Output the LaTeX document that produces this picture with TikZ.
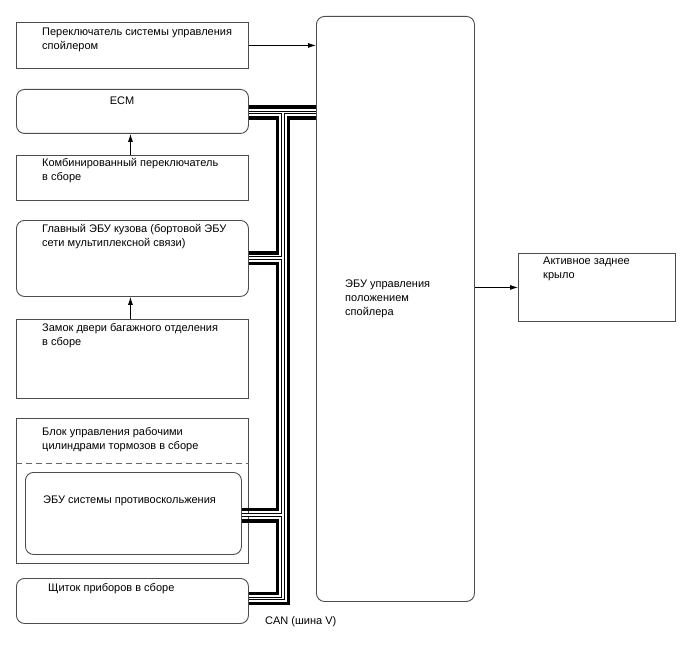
\documentclass[tikz,border=0pt]{standalone}
\usepackage{fontspec}
\setmainfont{Liberation Sans}
\usetikzlibrary{arrows.meta}
\newcommand\stt{\rule{0pt}{9pt}}
\begin{document}
\begin{tikzpicture}[x=1pt,y=-1pt,
  box/.style={draw=black!70, line width=0.9pt, inner sep=0pt, anchor=north west},
  rbox/.style={box, rounded corners=8pt},
  txt/.style={anchor=north west, inner sep=0pt, align=left, font=\fontsize{11}{14}\selectfont},
  arr/.style={draw=black, line width=0.8pt, -{Latex[length=8pt,width=5pt]}},
  bus/.style={line width=3.5pt, line join=miter},
  dbo/.style={line width=3.6pt, black},
  dbi/.style={line width=1.8pt, white}]
\useasboundingbox (0,0) rectangle (688,658);

% boxes
\node[box, minimum width=232pt, minimum height=46pt] (sw) at (16,22) {};
\node[rbox, minimum width=232pt, minimum height=44pt] (ecm) at (16,89) {};
\node[box, minimum width=232pt, minimum height=45pt] (comb) at (16,155) {};
\node[rbox, minimum width=232pt, minimum height=76pt] (body) at (16,220) {};
\node[box, minimum width=232pt, minimum height=79pt] (lock) at (16,319) {};
\node[box, minimum width=232pt, minimum height=145pt] (brake) at (16,418) {};
\node[rbox, minimum width=216pt, minimum height=82pt] (skid) at (25,472) {};
\node[rbox, minimum width=232pt, minimum height=45pt] (gauge) at (16,578) {};
\node[rbox, minimum width=158pt, minimum height=585pt] (ecu) at (316,16) {};
\node[box, minimum width=157pt, minimum height=68pt] (wing) at (518,253) {};

\draw[black!60, line width=0.9pt, dash pattern=on 6pt off 4pt] (brake.west |- 0,463) -- (brake.east |- 0,463);

% texts
\node[txt] (t1) at (42,26) {\stt Переключатель системы управления\\спойлером};
\node[txt, anchor=north] (t2) at (122,95) {\stt ECM};
\node[txt] (t3) at (42,157) {\stt Комбинированный переключатель\\в сборе};
\node[txt] (t4) at (42,223) {\stt Главный ЭБУ кузова (бортовой ЭБУ\\сети мультиплексной связи)};
\node[txt] (t5) at (42,322) {\stt Замок двери багажного отделения\\в сборе};
\node[txt] (t6) at (42,426) {\stt Блок управления рабочими\\цилиндрами тормозов в сборе};
\node[txt] (t7) at (43,494) {\stt ЭБУ системы противоскольжения};
\node[txt] (t8) at (48,582) {\stt Щиток приборов в сборе};
\node[txt] (t9) at (345,278) {\stt ЭБУ управления\\положением\\спойлера};
\node[txt] (t10) at (543,255) {\stt Активное заднее\\крыло};
\node[txt] (t11) at (265,615) {\stt CAN (шина V)};

% arrows
\draw[arr] (sw.east) -- (sw.east -| ecu.west);
\draw[arr] ([xshift=-2pt]comb.north) -- ([xshift=-2pt]ecm.south);
\draw[arr] ([xshift=-2pt]lock.north) -- ([xshift=-2pt]body.south);
\draw[arr] (wing.west -| ecu.east) -- (wing.west);

% CAN bus
\draw[bus] (ecm.east |- 0,107) -- (ecu.west |- 0,107);
\draw[bus] (ecm.east |- 0,118) -- (277.5,118) -- (277.5,253) -- (body.east |- 0,253);
\draw[bus] (body.east |- 0,263.5) -- (277.5,263.5) -- (277.5,509.5) -- (skid.east |- 0,509.5);
\draw[bus] (skid.east |- 0,521) -- (277.5,521) -- (277.5,593.5) -- (gauge.east |- 0,593.5);
\draw[bus] (ecu.west |- 0,118) -- (288.5,118) -- (288.5,603.5) -- (gauge.east |- 0,603.5);
\foreach \s in {dbo,dbi} {
  \draw[\s] (ecm.east |- 0,112.5) -- (ecu.west |- 0,112.5);
  \draw[\s, line join=miter] (283,112.5) -- (283,598.5) -- (gauge.east |- 0,598.5);
  \draw[\s] (body.east |- 0,258) -- (283,258);
  \draw[\s] (skid.east |- 0,515) -- (283,515);
}
\end{tikzpicture}
\end{document}
